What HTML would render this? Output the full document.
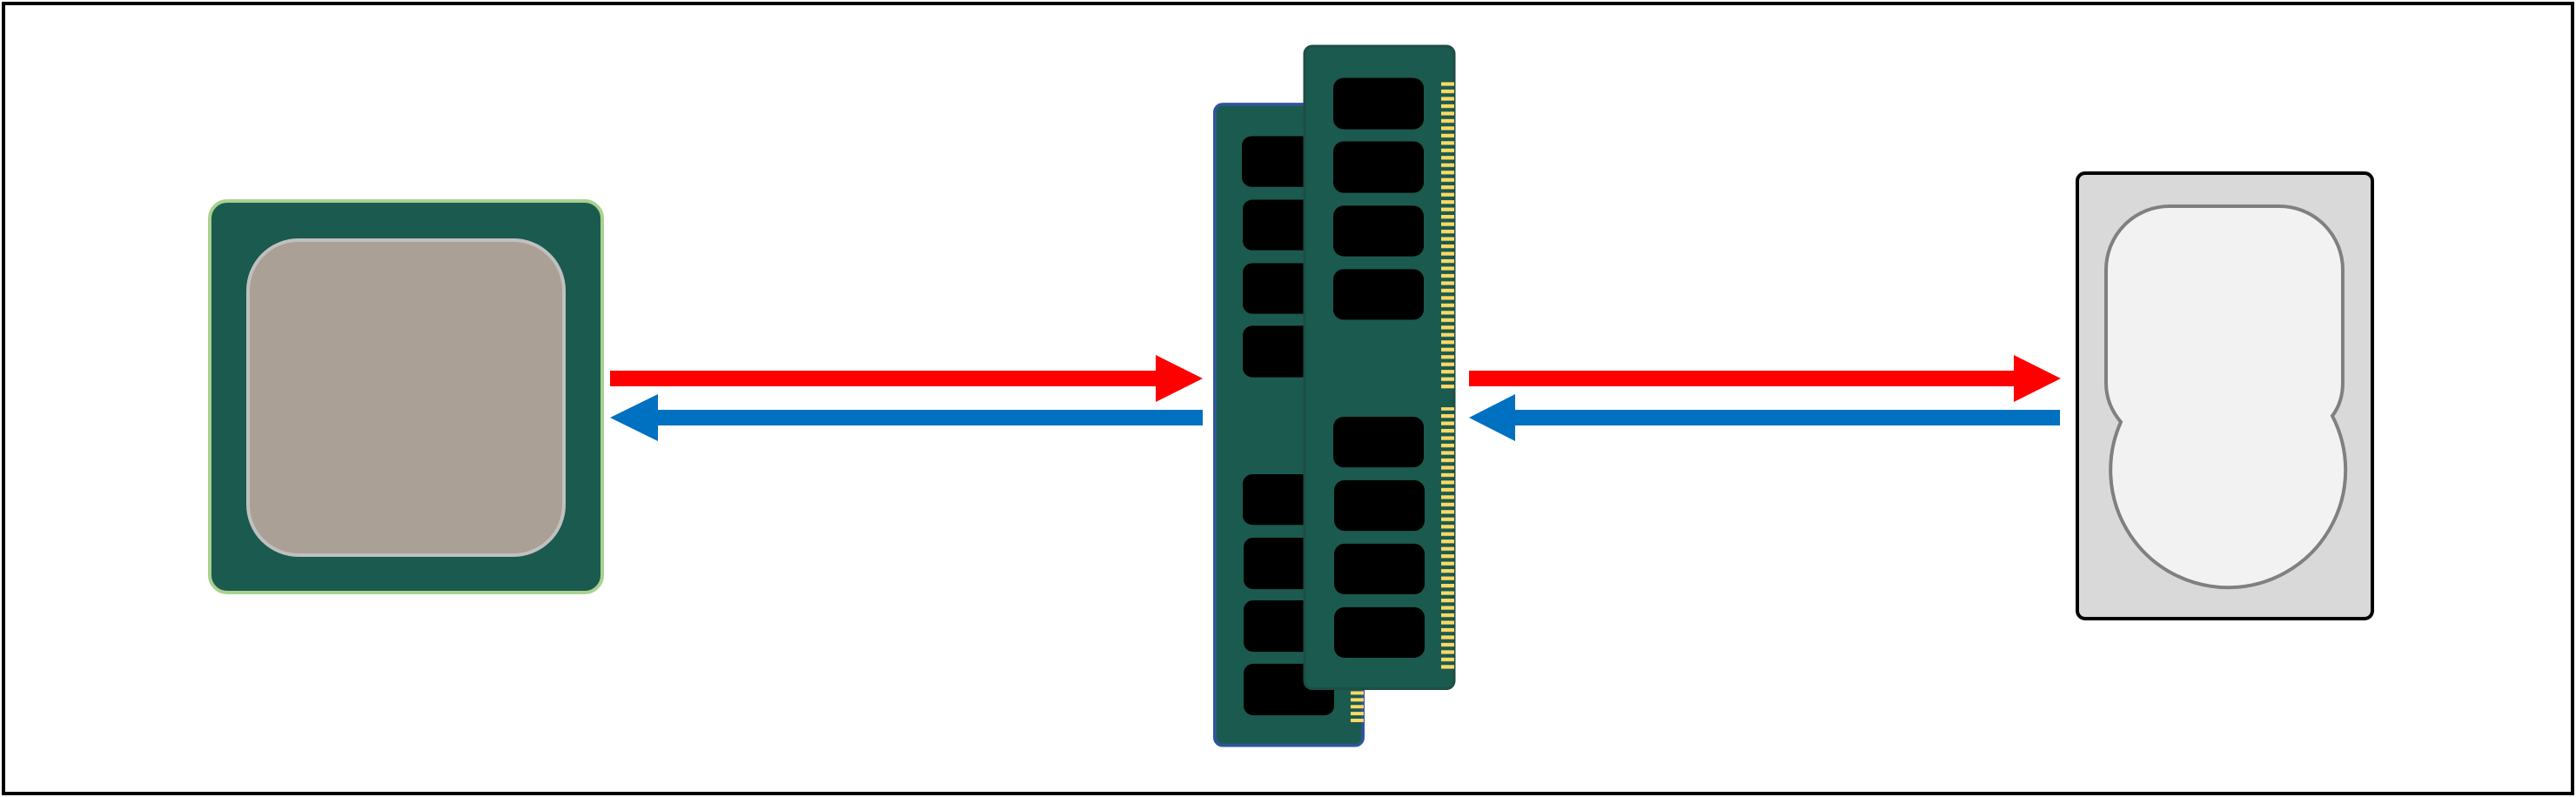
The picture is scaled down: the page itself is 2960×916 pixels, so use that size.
<!DOCTYPE html>
<html><head><meta charset="utf-8"><style>html,body{margin:0;padding:0;background:#fff}svg{display:block}</style></head>
<body>
<svg width="2960" height="916" viewBox="0 0 2960 916" xmlns="http://www.w3.org/2000/svg">
<rect x="4" y="4" width="2952" height="908" fill="#fff" stroke="#000" stroke-width="4"/>
<!-- CPU -->
<rect x="241" y="231" width="451" height="450" rx="20" fill="#1b5a4e" stroke="#a9d18e" stroke-width="4"/>
<rect x="285" y="276" width="363" height="362" rx="58" fill="#aaa095" stroke="#c0c0c0" stroke-width="4"/>
<!-- arrows left -->
<rect x="701" y="426" width="630" height="18" fill="#ff0000"/>
<polygon points="1328,408 1382,435 1328,462" fill="#ff0000"/>
<rect x="754" y="471" width="628" height="18" fill="#0070c0"/>
<polygon points="756,453 701,480 756,507" fill="#0070c0"/>
<!-- arrows right -->
<rect x="1688" y="426" width="630" height="18" fill="#ff0000"/>
<polygon points="2314,408 2368,435 2314,462" fill="#ff0000"/>
<rect x="1739" y="471" width="628" height="18" fill="#0070c0"/>
<polygon points="1741,453 1688,480 1741,507" fill="#0070c0"/>
<g transform="translate(0,53) scale(1,0.986) translate(0,-53)">
<!-- RAM back -->
<rect x="1396" y="121" width="170" height="747" rx="9" fill="#1b5a4e" stroke="#2f5597" stroke-width="4"/>
<g fill="#000">
<rect x="1427" y="158" width="106" height="59" rx="11"/>
<rect x="1428" y="232" width="106" height="59" rx="11"/>
<rect x="1428" y="306" width="106" height="59" rx="11"/>
<rect x="1428" y="379" width="106" height="60" rx="11"/>
<rect x="1428" y="552" width="106" height="59" rx="11"/>
<rect x="1429" y="626" width="106" height="60" rx="11"/>
<rect x="1429" y="699" width="106" height="60" rx="11"/>
<rect x="1429" y="773" width="104" height="60" rx="11"/>
</g>
<g fill="#ffd966">
<rect x="1552" y="805" width="15" height="4"/><rect x="1552" y="813" width="15" height="4"/><rect x="1552" y="821" width="15" height="4"/><rect x="1552" y="829" width="15" height="4"/><rect x="1552" y="837" width="15" height="4"/>
</g>
<!-- RAM front -->
<rect x="1499" y="53" width="172" height="749" rx="9" fill="#1b5a4e" stroke="#1e4e46" stroke-width="3"/>
<g fill="#000">
<rect x="1532" y="90" width="104" height="60" rx="12"/>
<rect x="1532" y="164" width="104" height="60" rx="12"/>
<rect x="1532" y="239" width="104" height="59" rx="12"/>
<rect x="1532" y="313" width="104" height="59" rx="12"/>
<rect x="1532" y="485" width="104" height="59" rx="12"/>
<rect x="1533" y="559" width="104" height="59" rx="12"/>
<rect x="1533" y="633" width="104" height="59" rx="12"/>
<rect x="1533" y="707" width="104" height="59" rx="12"/>
</g>
<defs><pattern id="pins" x="0" y="95" width="20" height="8.6" patternUnits="userSpaceOnUse"><rect x="0" y="0" width="20" height="4.3" fill="#ffd966"/></pattern></defs>
<rect x="1656" y="95" width="15" height="360" fill="url(#pins)"/>
<rect x="1656" y="474" width="15" height="307" fill="url(#pins)"/>
</g>
<!-- HDD -->
<rect x="2387" y="199" width="339" height="512" rx="9" fill="#d9d9d9" stroke="#000" stroke-width="4"/>
<path d="M2493 237 H2619 A73 73 0 0 1 2692 310 V440 Q2692 462 2680 478 A135 135 0 1 1 2437 485 Q2420 465 2420 440 V310 A73 73 0 0 1 2493 237 Z" fill="#f2f2f2" stroke="#808080" stroke-width="4"/>
</svg>
</body></html>
